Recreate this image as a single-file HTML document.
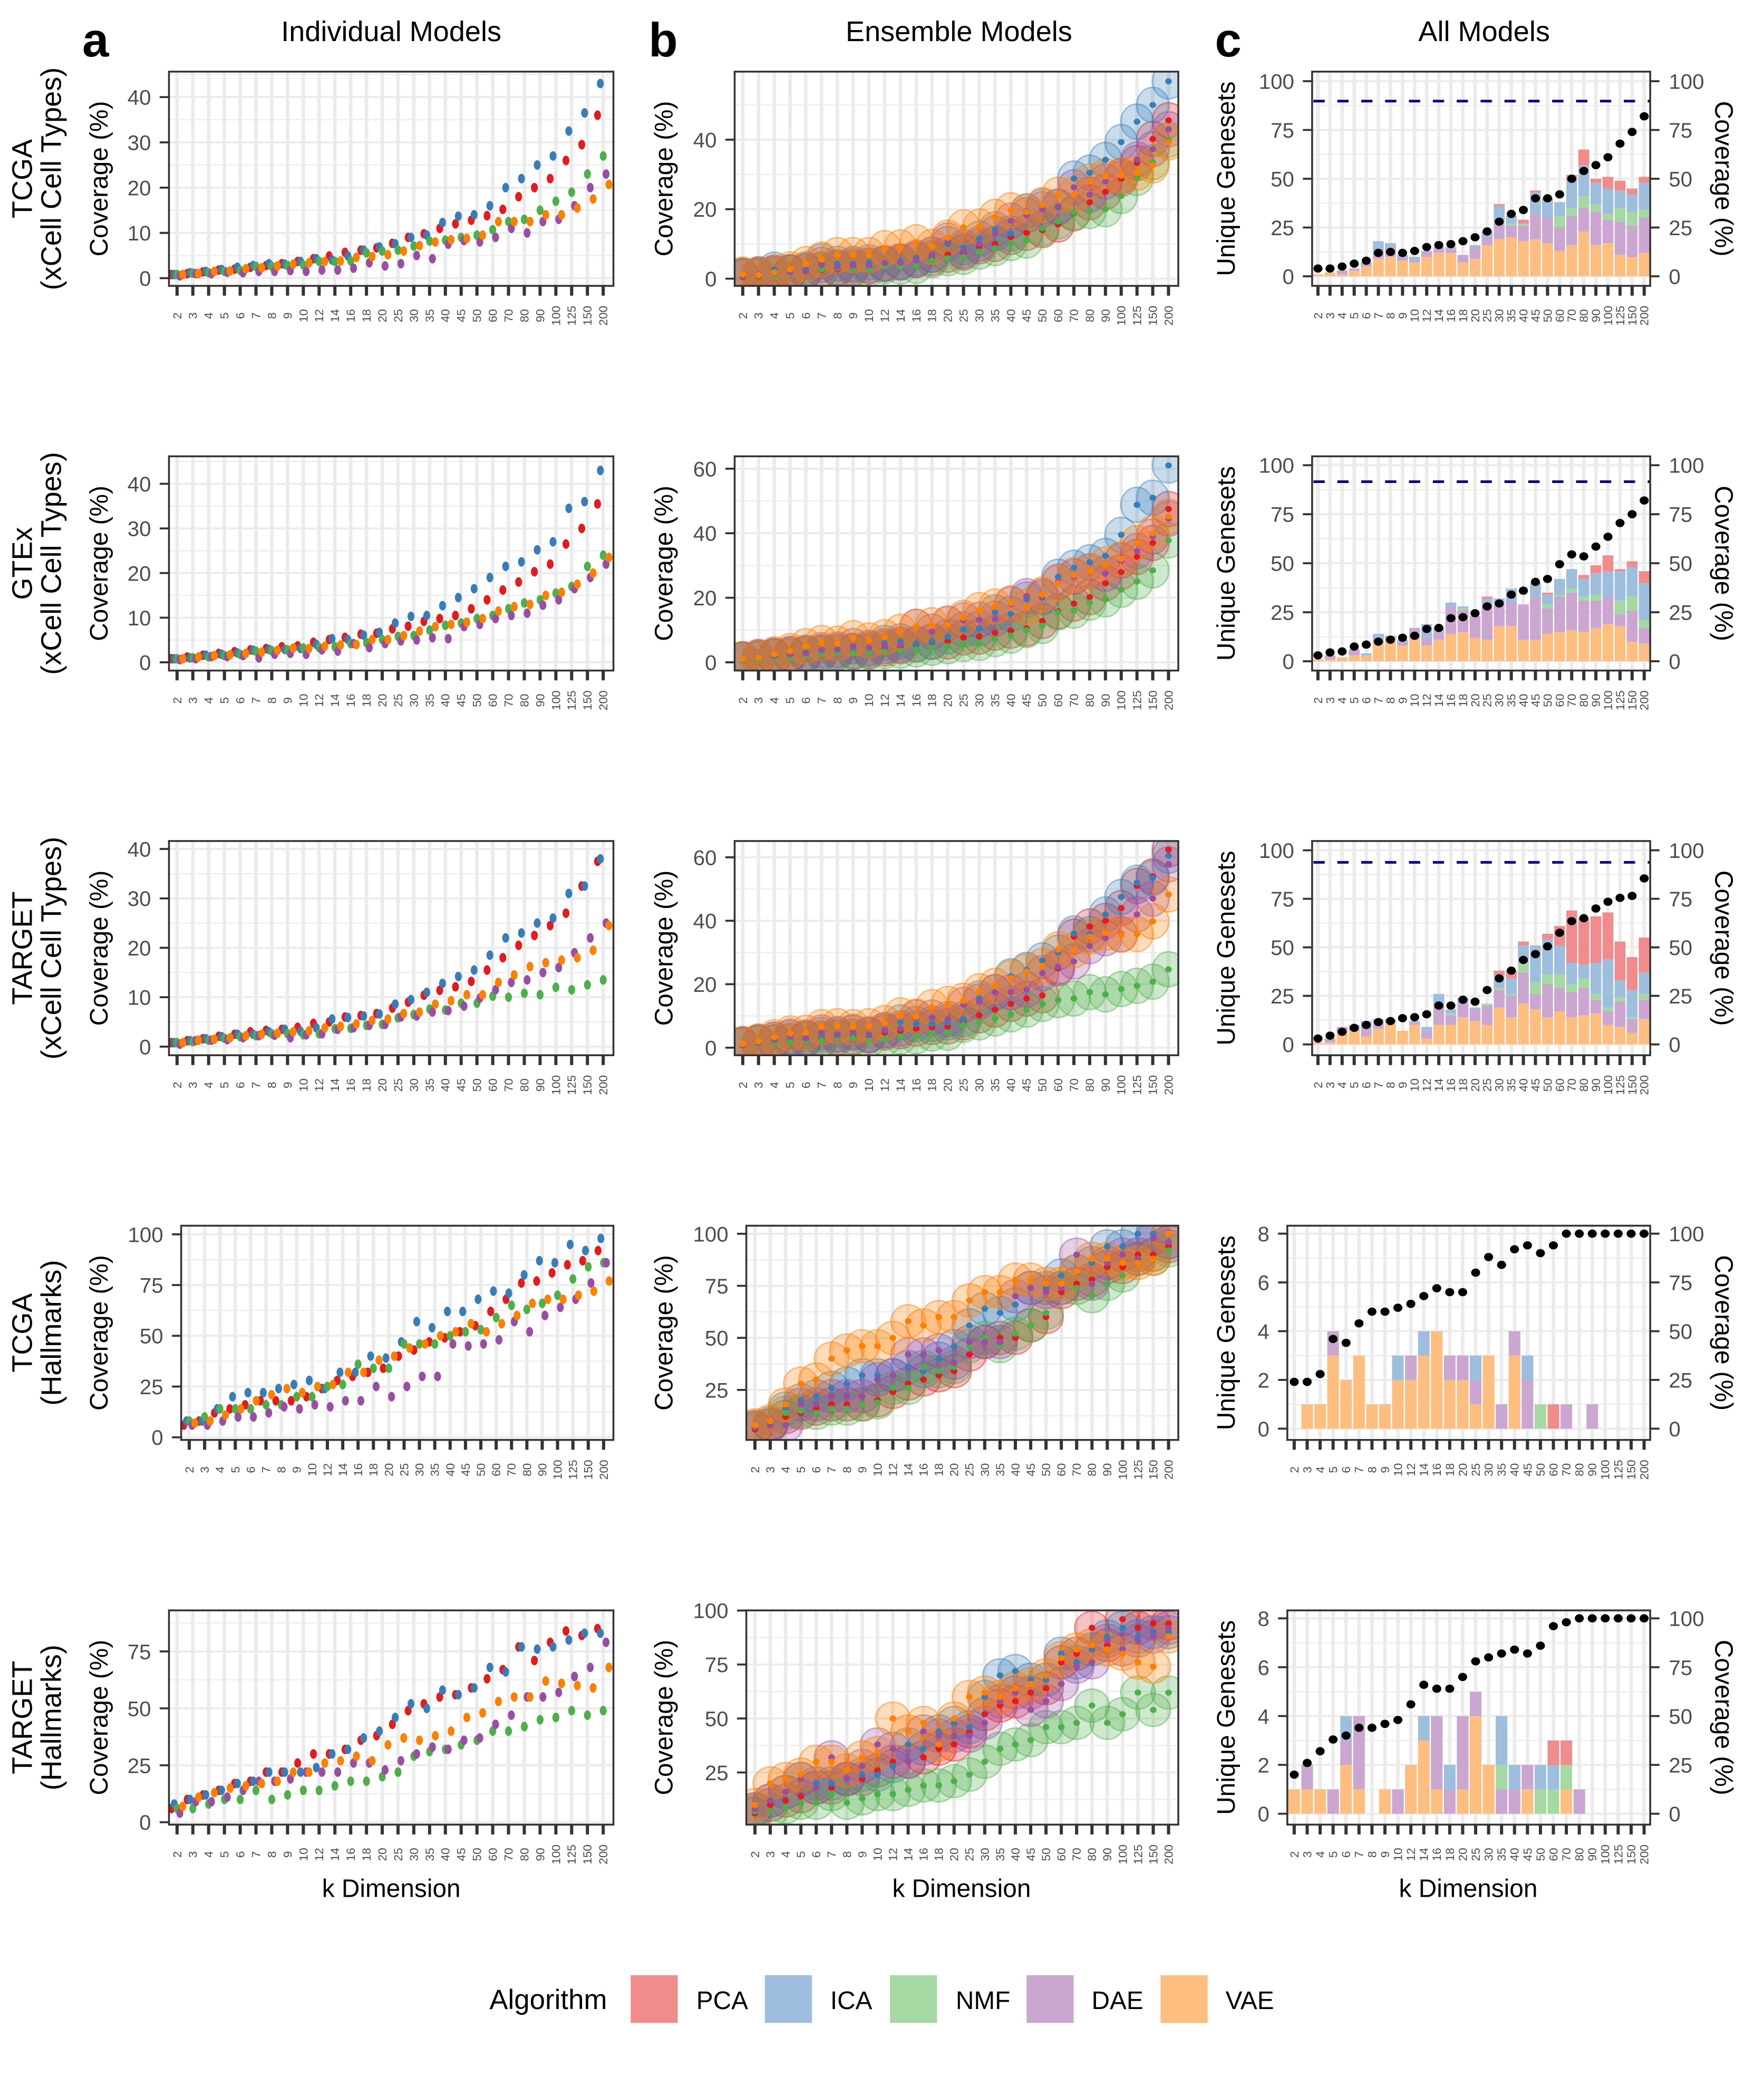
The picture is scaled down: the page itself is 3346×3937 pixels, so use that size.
<!DOCTYPE html>
<html><head><meta charset="utf-8"><title>Coverage figure</title>
<style>html,body{margin:0;padding:0;background:#fff}svg{display:block}text{font-family:"Liberation Sans",Arial,sans-serif}</style>
</head><body>
<svg id="fig" xmlns="http://www.w3.org/2000/svg" width="3346" height="3937" viewBox="0 0 1330 1565" preserveAspectRatio="none">
<rect x="0" y="0" width="1330" height="1565" fill="#fff"/>
<text x="62" y="42.6" font-size="36" font-weight="bold">a</text>
<text x="489" y="42.6" font-size="36" font-weight="bold">b</text>
<text x="916" y="42.6" font-size="36" font-weight="bold">c</text>
<text x="295" y="31" font-size="21.5" text-anchor="middle">Individual Models</text>
<text x="723" y="31" font-size="21.5" text-anchor="middle">Ensemble Models</text>
<text x="1119" y="31" font-size="21.5" text-anchor="middle">All Models</text>
<g font-size="21.5">
<text transform="translate(24,134.75) rotate(-90)" text-anchor="middle">TCGA</text>
<text transform="translate(46,134.75) rotate(-90)" text-anchor="middle">(xCell Cell Types)</text>
<text transform="translate(24,424.75) rotate(-90)" text-anchor="middle">GTEx</text>
<text transform="translate(46,424.75) rotate(-90)" text-anchor="middle">(xCell Cell Types)</text>
<text transform="translate(24,714.75) rotate(-90)" text-anchor="middle">TARGET</text>
<text transform="translate(46,714.75) rotate(-90)" text-anchor="middle">(xCell Cell Types)</text>
<text transform="translate(24,1004.75) rotate(-90)" text-anchor="middle">TCGA</text>
<text transform="translate(46,1004.75) rotate(-90)" text-anchor="middle">(Hallmarks)</text>
<text transform="translate(24,1294.75) rotate(-90)" text-anchor="middle">TARGET</text>
<text transform="translate(46,1294.75) rotate(-90)" text-anchor="middle">(Hallmarks)</text>
</g>
<text x="295" y="1430" font-size="19" text-anchor="middle">k Dimension</text>
<text x="725" y="1430" font-size="19" text-anchor="middle">k Dimension</text>
<text x="1107" y="1430" font-size="19" text-anchor="middle">k Dimension</text>
<g>
<text x="369" y="1514.5" font-size="21">Algorithm</text>
<rect x="475.5" y="1489" width="35.5" height="36" fill="#F08C8C"/>
<text x="525" y="1514.5" font-size="19">PCA</text>
<rect x="576.7" y="1489" width="35.5" height="36" fill="#9DBEDC"/>
<text x="626" y="1514.5" font-size="19">ICA</text>
<rect x="671" y="1489" width="35.5" height="36" fill="#A6D8A4"/>
<text x="720.6" y="1514.5" font-size="19">NMF</text>
<rect x="774" y="1489" width="35.5" height="36" fill="#CBA6D1"/>
<text x="823" y="1514.5" font-size="19">DAE</text>
<rect x="875" y="1489" width="35.5" height="36" fill="#FDBE80"/>
<text x="924" y="1514.5" font-size="19">VAE</text>
</g>
<g id="panels"></g>
</svg>
<script>
// ---------- data ----------
const kLabels = ['2','3','4','5','6','7','8','9','10','12','14','16','18','20','25','30','35','40','45','50','60','70','80','90','100','125','150','200'];
const algoNames = ['PCA','ICA','NMF','DAE','VAE'];

// Column a: individual models (median coverage %)
const aTcgaXPCA = [.8,1,1.4,1.8,2,2.4,2.8,3.2,3.7,4.3,4.9,5.7,6.2,6.7,7.7,9,9.8,11,12,12.8,13.8,15.2,18,20,22,26,29.5,36];
const aTcgaXICA = [.8,1.2,1.5,1.9,2.4,2.8,3.2,3.1,3.7,4.3,4,4.9,6.2,6.9,7.6,9,9.5,12.3,13.7,14,16,20,22,25,27,32.5,36.5,43];
const aTcgaXNMF = [.8,1.1,1.2,1.5,1.7,2.6,2.6,2.8,2.9,3.7,3.7,3.8,5.6,6,6.2,7.1,8.2,8.4,9,9.5,10.7,12.5,13,15,17,19,23,27];
const aTcgaXDAE = [.5,1,1,1.3,1.2,1.5,1.5,1.7,1.5,1.8,1.8,2.2,3.4,2.7,3.2,5,4.3,7.5,8.3,8,9,11,10,12.5,13,16,20,23];
const aTcgaXVAE = [.8,1,1.5,1.6,2.1,2.3,2.7,3.1,3.4,3.7,3.8,4.6,4.8,5.2,6,7.2,8,8.5,8.8,9.5,12.5,12.5,12.5,14,14,15.5,17.5,20.7];

const aGtexXPCA = [.8,1.2,1.6,2,2.4,2.8,3.1,3.5,3.7,4.5,5.1,5.6,6.3,6.5,7.5,8.1,9.2,9.8,10.5,12,14,16.2,18,20.3,22,26.5,30,35.5];
const aGtexXICA = [.8,1,1.6,1.8,2.1,2.7,2.9,2.9,3.1,4,5.3,5.1,6.1,6.7,8.8,10.3,10.5,12.7,14.5,16.5,19,21.5,22.5,25.2,27,34.5,36,43];
const aGtexXNMF = [.8,1,1.2,1.5,1.8,2.5,2.6,2.8,3.2,3.3,3.5,4.2,4.4,5.1,5.8,6,7.2,8.3,8.8,9.8,10.5,12,13.3,14,15.5,17,21.5,24];
const aGtexXDAE = [.6,.8,1.3,1.3,1.5,1,1.8,2,1.8,2.8,2.5,4.2,3.3,4.2,4.8,5,5.5,5.3,8,8.5,9.8,10.5,11,12.8,14,16.5,19,22];
const aGtexXVAE = [.8,1.2,1.5,1.7,2,2.3,2.7,3.2,3.1,3.6,3.9,4,5.1,5.1,6,7,8,8.5,9,9.8,11.5,12.5,13,15,15.7,17.5,20,23.5];

const aTargetXPCA = [.8,1.2,1.6,2.1,2.5,3,3.3,3.5,3.9,4.7,5,6,6.3,6.7,7.8,9,10.4,11.4,12.1,13.2,15.5,18,20.5,22.5,24.5,27,32.5,37.5];
const aTargetXICA = [.8,1.2,1.6,2,2.5,2.5,3,3.5,3.1,3.8,5.6,5.9,6.2,6.6,8.6,9.5,11,12.8,14.2,15.5,18.5,22,23,25,26,31,32.5,38];
const aTargetXNMF = [.8,1,1.3,1.7,2,2.2,2.6,2.6,2.4,2.6,3.6,3.7,4.3,4.5,5.8,6.5,7.6,7.4,8.8,8.8,10.2,10,10.8,10.5,12,11.5,12.5,13.5];
const aTargetXDAE = [.5,1.2,1.3,1.4,1.8,2.2,2.3,1.8,2.4,2.6,3.5,3.8,4.3,4.5,6,6.2,7,7.3,8.2,9.8,11.5,13,13.5,15,16,19,22,25];
const aTargetXVAE = [.8,1.3,1.5,1.8,2.2,2.5,2.7,3,3.2,3.8,4.1,4.6,5.3,5.6,6.7,7,8.6,9.3,10.5,10.5,13,14.5,16.2,17,17.5,18,19.5,24.5];

const aTcgaHPCA = [6,8,12,14,16,18,18,18,20,24,28,30,32,34,40,43,47,49,52,55,62,68,76,77,81,85,87,92];
const aTcgaHICA = [8,8,14,20,22,22,24,26,28,24,32,32,40,39,47,57,54,62,62,68,72,71,80,87,86,95,92,98];
const aTcgaHNMF = [8,10,14,14,14,16,16,20,20,25,26,36,34,34,46,46,46,50,52,53,59,65,63,66,70,78,84,86];
const aTcgaHDAE = [6,6,8,10,10,12,15,14,16,15,18,18,25,20,25,30,30,46,45,46,48,57,52,60,64,68,76,86];
const aTcgaHVAE = [7,8,11,14,18,21,24,22,25,26,32,32,38,40,44,46,50,52,56,52,56,60,66,68,68,70,72,77];

const aTargetHPCA = [6,10,12,14,17,18,22,22,26,30,30,32,36,38,43,49,52,55,56,59,63,67,77,71,79,84,82,85];
const aTargetHICA = [8,10,12,14,17,18,22,22,22,24,30,32,37,40,46,52,50,58,56,59,68,66,77,76,77,80,83,83];
const aTargetHNMF = [6,6,8,10,10,14,10,12,14,14,16,18,18,20,22,29,31,32,34,36,40,40,42,45,46,49,47,49];
const aTargetHDAE = [4,9,9,11,14,18,18,19,22,22,22,26,26,23,27,30,33,32,36,37,43,47,55,55,57,64,68,79];
const aTargetHVAE = [7,11,13,15,16,17,18,22,22,26,27,29,27,34,37,36,38,40,46,48,53,55,55,62,61,60,59,68];

// Column b: ensemble models
const bTcgaXPCA = [.5,.7,1.3,1.7,2.1,2.5,2.7,3.2,3.5,4.2,4.8,5.5,5.9,6.9,7.5,9.3,10,12,13.2,14,15.6,18.8,22,25,28.8,33.3,40.2,45.6];
const bTcgaXICA = [.8,1.1,2.6,1.8,2.7,5,4.3,4.3,4.7,4.3,5,6,6.8,10,9,11.5,14.2,13,19.4,20.8,20.5,28.8,30.5,34.2,39.3,45.2,50,56.8];
const bTcgaXNMF = [.7,.9,1.1,1.6,2.2,2.7,3,2.8,2.7,3.6,3.5,3.7,5.3,5.9,6.3,7.8,8.8,10.3,11,14.5,16.5,19,19.5,20,23.8,29,33.5,40];
const bTcgaXDAE = [.8,1.3,1.7,1.9,2.2,4,3.3,3.8,3.9,4.5,4.6,5.3,7,11,8,10,13,16.7,18.3,20,20.8,26.3,24.2,28,29.5,34.3,37.3,43];
const bTcgaXVAE = [1.2,1.1,1.8,2.7,4.2,5.5,6.8,6.8,6.8,8.8,9,10.5,9.2,11.8,14.8,15,17.8,19.7,19.2,21.2,24.2,24.2,28,29.5,29.7,30.5,32.6,39.2];

const bGtexXPCA = [.8,1.2,1.7,2,2.4,2.8,3,3.3,3.5,4.3,5,5.5,6.3,6.5,7.7,8,9.2,9.8,10.5,12.8,15.8,18.2,20.2,24.5,28,32.7,37,47.5];
const bGtexXICA = [.9,1.4,2,2.6,3,3.2,3.5,3.6,4,6,6.5,5.8,6.5,8,10.2,10.5,15.5,15,19.5,20,26.5,29.3,31,33,39.5,48.8,51,61];
const bGtexXNMF = [.7,1,1.3,1.5,2.2,2.7,3,3,3.2,3.5,3.6,4,4.5,5,5.7,6,7.2,8.3,10,11.3,15.5,16,18.5,19.5,22.5,25,28.5,37.8];
const bGtexXDAE = [.9,1.7,2,2.5,2.8,3.8,4,5,4.5,5,5.5,11,9.5,12,13,13.2,13.5,18,20.5,20.5,25,26.5,28.2,27.5,31.5,34.5,39,44.5];
const bGtexXVAE = [1,1.5,2.5,3.5,5,6,5.8,7.5,6.8,7.8,9.5,11,11.5,11.8,13.8,16.2,17.3,18.3,17.2,21,24.5,27,28.2,30.3,32,37,40,45.2];

const bTargetXPCA = [.8,1.5,1.7,2.1,2.6,2.9,3.3,3.5,3.8,4.8,5.2,6,6.5,6.7,8,10.2,12,13.8,15.5,16.5,25,35,38.2,40,44,51,54,62.4];
const bTargetXICA = [1,1.8,2.5,3,3.2,4,4.3,4.6,4.2,5.5,8,7.5,7.5,8,9,15.5,17.5,22.5,24.5,27.5,30,36,35.8,42,47.5,52,53.5,60.5];
const bTargetXNMF = [.9,1.2,1.5,1.8,2.2,2.3,3,3,2.4,2.8,3.5,3.6,4.5,4.7,7.2,8,9.2,10.5,12,13.8,15,15.5,17.5,16.8,18.5,19.5,20.8,24.7];
const bTargetXDAE = [.9,1.5,2.5,3.5,3,4.8,4,5,4,5.5,6,9.5,9.5,9,13.5,14.5,17.5,17.5,18.3,23.5,25.5,27.2,32,34.5,35.8,42,47,57.8];
const bTargetXVAE = [1.2,2,3.3,4.5,4.7,6.5,6.8,6.5,6.8,7.8,10.2,9.8,12.8,13.8,14.8,17.8,19.5,22,24,25.8,31,30.7,35,36.2,35.6,35.8,39.8,48.3];

const bTcgaHPCA = [6,8,12,14,16,18,18,18,20,24,28,30,32,34,42,48,50,50,56,60,72,76,78,84,84,90,90,94];
const bTcgaHICA = [7,9,16,20,22,26,28,32,32,32,36,34,40,46,56,64,62,66,74,74,80,82,86,94,94,100,100,96];
const bTcgaHNMF = [7,8,14,15,14,16,16,18,19,26,26,36,34,36,46,50,46,52,56,62,74,74,70,76,80,88,88,92];
const bTcgaHDAE = [7,8,8,18,18,22,22,22,30,32,42,42,44,38,48,48,48,70,74,72,74,90,76,86,90,88,98,96];
const bTcgaHVAE = [8,10,18,28,30,40,44,46,46,50,58,56,60,60,68,72,72,78,78,76,76,82,88,88,86,86,88,100];

const bTargetHPCA = [6,10,12,14,18,18,22,22,26,30,30,32,36,38,44,52,56,58,62,64,76,80,92,84,96,92,94,94];
const bTargetHICA = [8,12,16,22,20,20,22,24,24,28,38,36,44,48,46,60,70,72,68,68,80,76,82,88,92,88,90,90];
const bTargetHNMF = [7,7,9,11,11,15,11,13,15,15,17,19,19,21,24,30,36,38,40,46,46,48,56,48,52,62,54,62];
const bTargetHDAE = [8,12,16,22,18,32,22,28,38,36,30,44,42,42,42,48,58,62,54,58,66,74,76,86,82,86,88,92];
const bTargetHVAE = [10,20,22,24,30,30,26,32,34,50,44,48,38,50,60,62,60,64,66,70,78,82,84,82,80,76,74,88];

// Column c: unique genesets per algorithm (stacked) and cumulative coverage
const cTcgaXVAE = [1,2,1,3,5,9,10,8,7,10,12,12,7,9,16,19,20,18,19,17,13,16,23,16,17,11,10,12];
const cTcgaXDAE = [0,0,2,1,2,2,5,2,1,3,2,2,4,6,4,7,6,8,13,13,12,15,12,17,12,17,16,18];
const cTcgaXNMF = [0,0,0,0,0,0,0,0,0,0,0,0,0,0,0,0,1,1,0,0,6,4,6,4,3,7,7,4];
const cTcgaXICA = [0,0,0,0,0,7,2,1,2,0,1,1,0,1,3,10,4,0,11,9,7,14,16,11,13,9,9,14];
const cTcgaXPCA = [0,0,0,0,0,0,0,0,0,0,0,0,0,0,0,1,0,2,1,1,0,3,8,2,6,5,3,3];
const cTcgaXCov = [4,4,5,6.5,8,12,12.5,12,13,15,16,16.5,18,20,23,28,32,34,40,40,42,50,54,57,61,68,74,82];

const cGtexXVAE = [1,1,2,3,3,9,11,8,12,8,11,14,15,12,11,18,18,11,11,14,15,16,15,17,19,18,10,9];
const cGtexXDAE = [0,2,0,3,0,3,2,2,5,4,4,14,11,11,19,11,12,18,22,13,18,19,16,14,14,6,16,8];
const cGtexXNMF = [0,0,0,0,0,0,0,0,0,0,0,0,1,0,0,0,0,0,0,2,1,2,2,3,0,7,7,4];
const cGtexXICA = [0,0,0,0,1,2,0,1,0,7,2,2,1,0,2,3,7,0,7,5,8,10,9,11,13,15,15,19];
const cGtexXPCA = [0,0,0,0,0,0,0,0,0,0,0,0,0,0,1,0,0,0,0,1,0,0,2,4,8,1,3,6];
const cGtexXCov = [3,4.5,5,7.5,8.5,10,11,12,13,16.5,17,22,22.5,24.5,28,29.5,34,36,40.5,42,49.5,54.5,53.5,58.5,63.5,70.5,75,82];

const cTargetXVAE = [1,1,6,7,4,8,11,7,10,3,10,10,14,12,10,19,14,21,18,14,17,14,15,16,10,9,6,13];
const cTargetXDAE = [0,2,3,3,5,3,2,0,1,4,10,5,9,6,10,9,11,16,8,17,12,13,14,7,7,13,7,10];
const cTargetXNMF = [0,0,0,0,0,0,0,0,0,0,0,1,0,0,1,1,1,5,6,5,7,4,5,3,2,2,1,3];
const cTargetXICA = [0,0,0,0,3,2,0,0,1,2,6,2,1,1,0,7,8,9,19,18,15,11,7,16,25,9,14,11];
const cTargetXPCA = [0,0,0,0,0,0,0,0,0,0,0,0,0,0,0,2,4,2,0,3,10,27,24,24,24,20,17,18];
const cTargetXCov = [3,4.5,6.5,8.5,10,11.5,12,13.5,14,15.5,20,20,23,22,28,34,38,43.5,46.5,50.5,57.5,63.5,65,70,73.5,75.5,76.5,85.5];

const cTcgaHVAE = [0,1,1,3,2,3,1,1,2,2,3,4,2,2,1,3,0,3,0,0,0,0,0,0,0,0,0,0];
const cTcgaHDAE = [0,0,0,1,0,0,0,0,0,1,0,0,1,1,1,0,1,1,2,0,0,1,0,1,0,0,0,0];
const cTcgaHNMF = [0,0,0,0,0,0,0,0,0,0,0,0,0,0,0,0,0,0,0,1,0,0,0,0,0,0,0,0];
const cTcgaHICA = [0,0,0,0,0,0,0,0,1,0,1,0,0,0,1,0,0,0,1,0,0,0,0,0,0,0,0,0];
const cTcgaHPCA = [0,0,0,0,0,0,0,0,0,0,0,0,0,0,0,0,0,0,0,0,1,0,0,0,0,0,0,0];
const cTcgaHCov = [24,24,28,46,44,54,60,60,62,64,68,72,70,70,80,88,84,92,94,90,94,100,100,100,100,100,100,100];

const cTargetHVAE = [1,1,1,0,2,1,0,1,0,2,3,1,0,1,4,2,0,0,1,0,0,1,0,0,0,0,0,0];
const cTargetHDAE = [0,1,0,1,1,3,0,0,1,0,0,3,1,3,1,0,1,1,1,0,0,0,1,0,0,0,0,0];
const cTargetHNMF = [0,0,0,0,0,0,0,0,0,0,0,0,0,0,0,0,1,0,0,1,1,1,0,0,0,0,0,0];
const cTargetHICA = [0,0,0,0,1,0,0,0,0,0,1,0,1,0,0,0,2,1,0,1,1,0,0,0,0,0,0,0];
const cTargetHPCA = [0,0,0,0,0,0,0,0,0,0,0,0,0,0,0,0,0,0,0,0,1,1,0,0,0,0,0,0];
const cTargetHCov = [20,26,32,38,40,44,44,46,48,56,66,64,64,70,78,80,82,84,82,86,96,98,100,100,100,100,100,100];

const cDashValues = [89.8, 91.6, 93.8];

// ---------- styling / layout ----------
const solid = ['#E41A1C','#377EB8','#4DAF4A','#984EA3','#FF7F00'];
const pastel = ['#F08C8C','#9DBEDC','#A6D8A4','#CBA6D1','#FDBE80'];
const rowTop = [54,344,634,924,1214];
const PH = 161.5;
const NS = 'http://www.w3.org/2000/svg';
const root = document.getElementById('panels');
let clipId = 0;

function el(tag, attrs, parent){
  const e = document.createElementNS(NS, tag);
  for (const key in attrs) e.setAttribute(key, attrs[key]);
  parent.appendChild(e);
  return e;
}

function frame(p){
  const g = el('g', {}, root);
  
  
  const id = 'clip' + (clipId++);
  const cp = el('clipPath', {id: id}, g);
  el('rect', {x: p.left, y: p.top, width: p.right - p.left, height: PH}, cp);
  const grid = el('g', {}, g);
  
  
  p.minor.forEach(v => {
    const y = p.y(v);
    if (y < p.top || y > p.top + PH) return;
    const ln = el('line', {x1: p.left, x2: p.right, y1: y, y2: y, stroke: '#ebebeb', 'stroke-width': 0.8}, grid);
    
    
  });
  p.ticks.forEach(v => {
    const y = p.y(v);
    const ln = el('line', {x1: p.left, x2: p.right, y1: y, y2: y, stroke: '#ebebeb', 'stroke-width': 1.5}, grid);
    
    
  });
  kLabels.forEach((k, i) => {
    const x = p.x(i);
    const ln = el('line', {x1: x, x2: x, y1: p.top, y2: p.top + PH, stroke: '#ebebeb', 'stroke-width': 2.6}, grid);
    
    
  });
  const data = el('g', {'clip-path': 'url(#' + id + ')'}, g);
  
  
  p.data = data; p.g = g;
  return p;
}

function axes(p){
  const g = p.g;
  const border = el('rect', {x: p.left, y: p.top, width: p.right - p.left, height: PH, fill: 'none', stroke: '#333', 'stroke-width': 1.4}, g);
  
  
  const bottom = p.top + PH;
  p.ticks.forEach((v, j) => {
    const y = p.y(v);
    const t = el('line', {x1: p.left - 7, x2: p.left, y1: y, y2: y, stroke: '#333', 'stroke-width': 1.5}, g);
    
    
    const lb = el('text', {x: p.left - 13.5, y: y, dy: '0.36em', 'text-anchor': 'end', 'font-size': 16, fill: '#4d4d4d'}, g);
    lb.textContent = String(v);
    
    
  });
  if (p.right2) {
    p.ticks.forEach((v, j) => {
      const y = p.y(v);
      const t = el('line', {x1: p.right, x2: p.right + 7, y1: y, y2: y, stroke: '#333', 'stroke-width': 1.5}, g);
      
      
      const lb = el('text', {x: p.right + 14, y: y, dy: '0.36em', 'text-anchor': 'start', 'font-size': 16, fill: '#4d4d4d'}, g);
      lb.textContent = p.right2[j];
      
      
    });
    const rt = el('text', {transform: 'translate(' + (p.right + 49) + ',' + (p.top + PH / 2) + ') rotate(90)', 'text-anchor': 'middle', 'font-size': 19}, g);
    rt.textContent = 'Coverage (%)';
    
    
  }
  kLabels.forEach((k, i) => {
    const x = p.x(i);
    const t = el('line', {x1: x, x2: x, y1: bottom, y2: bottom + 7.4, stroke: '#333', 'stroke-width': 2.4}, g);
    
    
    const lb = el('text', {transform: 'translate(' + x + ',' + (bottom + 22.5) + ') rotate(-90)', dy: '0.35em', 'text-anchor': 'middle', 'font-size': 9, fill: '#4d4d4d'}, g);
    lb.textContent = k;
    
    
  });
  const tt = el('text', {transform: 'translate(' + p.titleX + ',' + (p.top + PH / 2) + ') rotate(-90)', 'text-anchor': 'middle', 'font-size': 19}, g);
  tt.textContent = p.title;
  
  
}

function linY(y0, k){ return v => y0 - v * k; }
function linX(x0, s){ return i => x0 + s * i; }

// ---------- column a ----------
const aSeries = [
  [aTcgaXPCA, aTcgaXICA, aTcgaXNMF, aTcgaXDAE, aTcgaXVAE],
  [aGtexXPCA, aGtexXICA, aGtexXNMF, aGtexXDAE, aGtexXVAE],
  [aTargetXPCA, aTargetXICA, aTargetXNMF, aTargetXDAE, aTargetXVAE],
  [aTcgaHPCA, aTcgaHICA, aTcgaHNMF, aTcgaHDAE, aTcgaHVAE],
  [aTargetHPCA, aTargetHICA, aTargetHNMF, aTargetHDAE, aTargetHVAE]
];
const aGeom = [
  {left:127.4, x0:133.5, s:11.9, y0:209.7, k:3.4125, ticks:[0,10,20,30,40], minor:[5,15,25,35,45]},
  {left:127.4, x0:133.5, s:11.9, y0:499.3, k:3.365, ticks:[0,10,20,30,40], minor:[5,15,25,35,45]},
  {left:127.4, x0:133.5, s:11.9, y0:789, k:3.725, ticks:[0,10,20,30,40], minor:[5,15,25,35]},
  {left:136.6, x0:142.7, s:11.57, y0:1083.5, k:1.53, ticks:[0,25,50,75,100], minor:[12.5,37.5,62.5,87.5]},
  {left:127.4, x0:133.5, s:11.9, y0:1373.7, k:1.717, ticks:[0,25,50,75], minor:[12.5,37.5,62.5,87.5]}
];
const dodge = [-0.36,-0.18,0,0.18,0.36];
aGeom.forEach((gm, r) => {
  const p = frame({left: gm.left, right: 462.5, top: rowTop[r], x: linX(gm.x0, gm.s), y: linY(gm.y0, gm.k), ticks: gm.ticks, minor: gm.minor, title: 'Coverage (%)', titleX: 81});
  aSeries[r].forEach((arr, a) => {
    arr.forEach((v, i) => {
      const cx = p.x(i) + dodge[a] * gm.s;
      const cy = p.y(v);
      const pt = el('ellipse', {cx: cx, cy: cy, rx: 2.6, ry: 3.6, fill: solid[a]}, p.data);
      
      
    });
  });
  axes(p);
});

// ---------- column b ----------
const bSeries = [
  [bTcgaXPCA, bTcgaXICA, bTcgaXNMF, bTcgaXDAE, bTcgaXVAE],
  [bGtexXPCA, bGtexXICA, bGtexXNMF, bGtexXDAE, bGtexXVAE],
  [bTargetXPCA, bTargetXICA, bTargetXNMF, bTargetXDAE, bTargetXVAE],
  [bTcgaHPCA, bTcgaHICA, bTcgaHNMF, bTcgaHDAE, bTcgaHVAE],
  [bTargetHPCA, bTargetHICA, bTargetHNMF, bTargetHDAE, bTargetHVAE]
];
const bGeom = [
  {left:553.9, x0:560, s:11.89, y0:210.1, k:2.62, ticks:[0,20,40], minor:[10,30,50], rx:12.2, ry:13.2},
  {left:553.9, x0:560, s:11.89, y0:499.3, k:2.433, ticks:[0,20,40,60], minor:[10,30,50], rx:12.2, ry:13.2},
  {left:553.9, x0:560, s:11.89, y0:789.8, k:2.392, ticks:[0,20,40,60], minor:[10,30,50], rx:12.2, ry:13.2},
  {left:562.7, x0:569.2, s:11.55, y0:1087, k:1.569, ticks:[25,50,75,100], minor:[12.5,37.5,62.5,87.5], rx:13, ry:12.4},
  {left:562.7, x0:569.2, s:11.55, y0:1376.9, k:1.628, ticks:[25,50,75,100], minor:[12.5,37.5,62.5,87.5], rx:13, ry:12.4}
];
bGeom.forEach((gm, r) => {
  const p = frame({left: gm.left, right: 888.4, top: rowTop[r], x: linX(gm.x0, gm.s), y: linY(gm.y0, gm.k), ticks: gm.ticks, minor: gm.minor, title: 'Coverage (%)', titleX: 507});
  bSeries[r].forEach((arr, a) => {
    arr.forEach((v, i) => {
      const c = el('ellipse', {cx: p.x(i), cy: p.y(v), rx: gm.rx, ry: gm.ry, fill: solid[a], 'fill-opacity': 0.27, stroke: solid[a], 'stroke-opacity': 0.45, 'stroke-width': 1.1}, p.data);
      
      
    });
  });
  bSeries[r].forEach((arr, a) => {
    arr.forEach((v, i) => {
      const d = el('ellipse', {cx: p.x(i), cy: p.y(v), rx: 2.5, ry: 2.3, fill: solid[a]}, p.data);
      
      
    });
  });
  axes(p);
});

// ---------- column c ----------
const cSeries = [
  [cTcgaXPCA, cTcgaXICA, cTcgaXNMF, cTcgaXDAE, cTcgaXVAE],
  [cGtexXPCA, cGtexXICA, cGtexXNMF, cGtexXDAE, cGtexXVAE],
  [cTargetXPCA, cTargetXICA, cTargetXNMF, cTargetXDAE, cTargetXVAE],
  [cTcgaHPCA, cTcgaHICA, cTcgaHNMF, cTcgaHDAE, cTcgaHVAE],
  [cTargetHPCA, cTargetHICA, cTargetHNMF, cTargetHDAE, cTargetHVAE]
];
const cCov = [cTcgaXCov, cGtexXCov, cTargetXCov, cTcgaHCov, cTargetHCov];
const cGeom = [
  {left:989.3, x0:993.7, s:9.11, y0:208.3, kl:1.471, kr:1.471, ticks:[0,25,50,75,100], minor:[12.5,37.5,62.5,87.5]},
  {left:989.3, x0:993.7, s:9.11, y0:498.5, kl:1.478, kr:1.478, ticks:[0,25,50,75,100], minor:[12.5,37.5,62.5,87.5]},
  {left:989.3, x0:993.7, s:9.11, y0:787.3, kl:1.463, kr:1.463, ticks:[0,25,50,75,100], minor:[12.5,37.5,62.5,87.5]},
  {left:970.6, x0:975.8, s:9.77, y0:1077, kl:18.375, kr:1.47, ticks:[0,2,4,6,8], minor:[1,3,5,7]},
  {left:970.6, x0:975.8, s:9.77, y0:1367.3, kl:18.41, kr:1.473, ticks:[0,2,4,6,8], minor:[1,3,5,7]}
];
const stackOrder = [4,3,2,1,0];
cGeom.forEach((gm, r) => {
  const p = frame({left: gm.left, right: 1244.2, top: rowTop[r], x: linX(gm.x0, gm.s), y: linY(gm.y0, gm.kl), ticks: gm.ticks, minor: gm.minor, title: 'Unique Genesets', titleX: 931, right2: ['0','25','50','75','100']});
  const yr = linY(gm.y0, gm.kr);
  const bw = gm.s * 0.9;
  kLabels.forEach((k, i) => {
    let acc = 0;
    stackOrder.forEach(a => {
      const v = cSeries[r][a][i];
      if (v <= 0) return;
      const yTop = p.y(acc + v), yBot = p.y(acc);
      const b = el('rect', {x: p.x(i) - bw / 2, y: yTop, width: bw, height: yBot - yTop, fill: pastel[a]}, p.data);
      
      
      acc += v;
    });
  });
  if (r < 3) {
    const yd = yr(cDashValues[r]);
    const dl = el('line', {x1: p.left + 1, x2: p.right, y1: yd, y2: yd, stroke: '#00008B', 'stroke-width': 2, 'stroke-dasharray': '8.5,9.5'}, p.data);
    
    
  }
  cCov[r].forEach((v, i) => {
    const d = el('ellipse', {cx: p.x(i), cy: yr(v), rx: 3.4, ry: 3.1, fill: '#000'}, p.data);
    
    
  });
  axes(p);
});
</script>
</body></html>
